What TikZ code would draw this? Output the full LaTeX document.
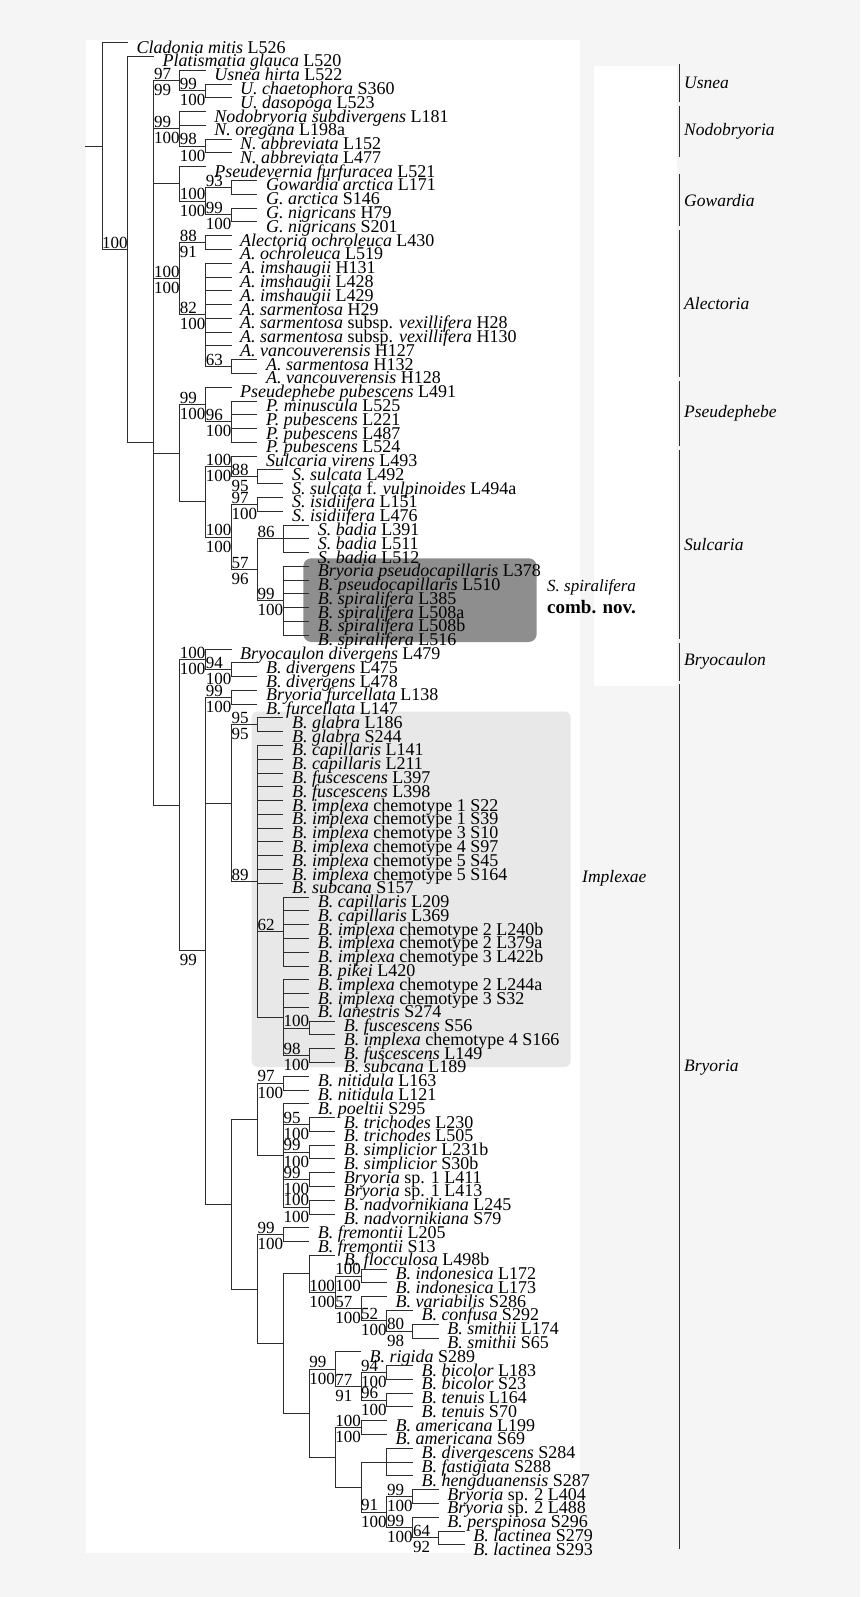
\documentclass[tikz,border=0pt]{standalone}
\usepackage{fontspec}
\setmainfont{Liberation Serif}
\usetikzlibrary{calc}
\definecolor{bgc}{RGB}{245,245,245}
\definecolor{boxdark}{RGB}{142,142,142}
\definecolor{boxlight}{RGB}{232,232,232}
\definecolor{ln}{RGB}{45,45,45}
\pgfmathdeclarefunction{colx}{1}{\pgfmathparse{102+25.9*#1}}
\pgfmathdeclarefunction{rowy}{1}{\pgfmathparse{42.7+(#1-1)*13.78}}
\tikzset{
  branch/.style={draw=ln, line width=0.9pt},
  bracket/.style={draw=ln, line width=0.8pt},
  leaf/.style={anchor=base west, inner sep=0pt, xshift=8.5pt, yshift=-10.5pt, font=\fontsize{18}{20}\selectfont},
  supu/.style={anchor=base west, inner sep=0pt, yshift=1.2pt, font=\fontsize{17}{19}\selectfont},
  supl/.style={anchor=base west, inner sep=0pt, yshift=-15pt, font=\fontsize{17}{19}\selectfont},
  cladelab/.style={anchor=west, inner sep=0pt, xshift=5pt, font=\fontsize{17.5}{19}\selectfont\itshape},
}
\newcommand\TNode[3]{\coordinate (#1) at ({colx(#2)},{rowy(#3)});}
\newcommand\TEdge[4]{\draw[branch] (#1) |- (#2);
  \node[supu] (#2-u) at (#1 |- #2) {#3};
  \node[supl] (#2-d) at (#1 |- #2) {#4};}
\newcommand\TLeaf[5]{\coordinate (#2) at ({colx(#3)},{rowy(#4)});
  \draw[branch] (#1) |- (#2);
  \node[leaf] (#2-t) at (#2) {#5};}
\newcommand\TClade[4]{\coordinate (#1-a) at (679,{rowy(#2)-6});
  \coordinate (#1-b) at (679,{rowy(#3)+4});
  \draw[bracket] (#1-a) -- (#1-b);
  \node[cladelab] (#1-l) at ($(#1-a)!0.5!(#1-b)$) {#4};}
\begin{document}
\begin{tikzpicture}[x=1pt,y=-1pt]
\useasboundingbox (0,0) rectangle (860,1597);
\fill[bgc] (0,0) rectangle (860,1597);
\fill[white] (86,40) rectangle (580,1553);
\fill[white] (594,66) rectangle (677,686);
\fill[boxlight, rounded corners=6pt] (251.7,711.5) rectangle (570.6,1067);
\fill[boxdark, rounded corners=8pt] (303.3,558.3) rectangle (536.7,642);
\node[anchor=west, inner sep=0pt, font=\fontsize{17}{19}\selectfont\itshape] (spname) at (547,587) {S. spiralifera};
\node[anchor=west, inner sep=0pt, font=\fontsize{19}{21}\selectfont\bfseries] (spnov) at (547,607.5) {comb. nov.};
\node[anchor=west, inner sep=0pt, font=\fontsize{17.5}{19}\selectfont\itshape] (implexae) at (582,878) {Implexae};
% clade brackets
\TClade{cU}{3}{5}{Usnea}
\TClade{cN}{6}{9}{Nodobryoria}
\TClade{cG}{11}{14}{Gowardia}
\TClade{cA}{15}{25}{Alectoria}
\TClade{cP}{26}{30}{Pseudephebe}
\TClade{cS}{31}{44}{Sulcaria}
\TClade{cC}{45}{47}{Bryocaulon}
\coordinate (cB-a) at (679,{rowy(48)-6});
\coordinate (cB-b) at (679,{rowy(110)+4});
\draw[bracket] (cB-a) -- (cB-b);
\node[cladelab] (cB-l) at (679,1068) {Bryoria};
% root
\TNode{R}{0}{8.50897}
\TNode{A}{1}{16.01794}
\TNode{B}{2}{30.03589}
\coordinate (stub) at (85,{rowy(8.50897)});
\draw[branch] (stub) -- (R);
\TLeaf{R}{l1}{1}{1}{\textit{Cladonia mitis} L526}
\TEdge{R}{A}{100}{}
\TLeaf{A}{l2}{2}{2}{\textit{Platismatia glauca} L520}
\TEdge{A}{B}{}{}
% Usnea
\TNode{U1}{3}{3.75} \TNode{U2}{4}{4.5}
\TEdge{B}{U1}{97}{99}
\TLeaf{U1}{l3}{4}{3}{\textit{Usnea hirta} L522}
\TEdge{U1}{U2}{99}{100}
\TLeaf{U2}{l4}{5}{4}{\textit{U. chaetophora} S360}
\TLeaf{U2}{l5}{5}{5}{\textit{U. dasopoga} L523}
% Nodobryoria
\TNode{N1}{3}{7.25} \TNode{N2}{4}{8.5}
\TEdge{B}{N1}{99}{100}
\TLeaf{N1}{l6}{4}{6}{\textit{Nodobryoria subdivergens} L181}
\TLeaf{N1}{l7}{4}{7}{\textit{N. oregana} L198a}
\TEdge{N1}{N2}{98}{100}
\TLeaf{N2}{l8}{5}{8}{\textit{N. abbreviata} L152}
\TLeaf{N2}{l9}{5}{9}{\textit{N. abbreviata} L477}
% Gowardia
\TNode{G0}{3}{11.25} \TNode{G1}{4}{12.5} \TNode{G2}{5}{11.5} \TNode{G3}{5}{13.5}
\TEdge{B}{G0}{}{}
\TLeaf{G0}{l10}{4}{10}{\textit{Pseudevernia furfuracea} L521}
\TEdge{G0}{G1}{100}{100}
\TEdge{G1}{G2}{93}{}
\TEdge{G1}{G3}{99}{100}
\TLeaf{G2}{l11}{6}{11}{\textit{Gowardia arctica} L171}
\TLeaf{G2}{l12}{6}{12}{\textit{G. arctica} S146}
\TLeaf{G3}{l13}{6}{13}{\textit{G. nigricans} H79}
\TLeaf{G3}{l14}{6}{14}{\textit{G. nigricans} S201}
% Alectoria
\TNode{AL}{3}{18.125} \TNode{AO}{4}{15.5} \TNode{AI}{4}{20.75} \TNode{AS}{5}{24.5}
\TEdge{B}{AL}{100}{100}
\TEdge{AL}{AO}{88}{91}
\TEdge{AL}{AI}{82}{100}
\TEdge{AI}{AS}{63}{}
\TLeaf{AO}{l15}{5}{15}{\textit{Alectoria ochroleuca} L430}
\TLeaf{AO}{l16}{5}{16}{\textit{A. ochroleuca} L519}
\TLeaf{AI}{l17}{5}{17}{\textit{A. imshaugii} H131}
\TLeaf{AI}{l18}{5}{18}{\textit{A. imshaugii} L428}
\TLeaf{AI}{l19}{5}{19}{\textit{A. imshaugii} L429}
\TLeaf{AI}{l20}{5}{20}{\textit{A. sarmentosa} H29}
\TLeaf{AI}{l21}{5}{21}{\textit{A. sarmentosa} subsp. \textit{vexillifera} H28}
\TLeaf{AI}{l22}{5}{22}{\textit{A. sarmentosa} subsp. \textit{vexillifera} H130}
\TLeaf{AI}{l23}{5}{23}{\textit{A. vancouverensis} H127}
\TLeaf{AS}{l24}{6}{24}{\textit{A. sarmentosa} H132}
\TLeaf{AS}{l25}{6}{25}{\textit{A. vancouverensis} H128}
% Pseudephebe
\TNode{PP}{3}{30.78125} \TNode{PS}{4}{27.25} \TNode{P2}{5}{28.5}
\TEdge{B}{PP}{}{}
\TEdge{PP}{PS}{99}{100}
\TLeaf{PS}{l26}{5}{26}{\textit{Pseudephebe pubescens} L491}
\TEdge{PS}{P2}{96}{100}
\TLeaf{P2}{l27}{6}{27}{\textit{P. minuscula} L525}
\TLeaf{P2}{l28}{6}{28}{\textit{P. pubescens} L221}
\TLeaf{P2}{l29}{6}{29}{\textit{P. pubescens} L487}
\TLeaf{P2}{l30}{6}{30}{\textit{P. pubescens} L524}
% Sulcaria
\TNode{SU}{4}{34.3125} \TNode{SV}{5}{31.75} \TNode{SS}{6}{32.5} \TNode{SB}{5}{36.875}
\TNode{SI}{6}{34.5} \TNode{S57}{6}{39.25} \TNode{B86}{7}{37} \TNode{SP}{7}{41.5}
\TEdge{PP}{SU}{}{}
\TEdge{SU}{SV}{100}{100}
\TLeaf{SV}{l31}{6}{31}{\textit{Sulcaria virens} L493}
\TEdge{SV}{SS}{88}{95}
\TLeaf{SS}{l32}{7}{32}{\textit{S. sulcata} L492}
\TLeaf{SS}{l33}{7}{33}{\textit{S. sulcata} f. \textit{vulpinoides} L494a}
\TEdge{SU}{SB}{100}{100}
\TEdge{SB}{SI}{97}{100}
\TLeaf{SI}{l34}{7}{34}{\textit{S. isidiifera} L151}
\TLeaf{SI}{l35}{7}{35}{\textit{S. isidiifera} L476}
\TEdge{SB}{S57}{57}{96}
\TEdge{S57}{B86}{86}{}
\TLeaf{B86}{l36}{8}{36}{\textit{S. badia} L391}
\TLeaf{B86}{l37}{8}{37}{\textit{S. badia} L511}
\TLeaf{B86}{l38}{8}{38}{\textit{S. badia} L512}
\TEdge{S57}{SP}{99}{100}
\TLeaf{SP}{l39}{8}{39}{\textit{Bryoria pseudocapillaris} L378}
\TLeaf{SP}{l40}{8}{40}{\textit{B. pseudocapillaris} L510}
\TLeaf{SP}{l41}{8}{41}{\textit{B. spiralifera} L385}
\TLeaf{SP}{l42}{8}{42}{\textit{B. spiralifera} L508a}
\TLeaf{SP}{l43}{8}{43}{\textit{B. spiralifera} L508b}
\TLeaf{SP}{l44}{8}{44}{\textit{B. spiralifera} L516}
% Bryocaulon + Bryoria
\TNode{BB}{3}{56.32178} \TNode{BC}{4}{45.75} \TNode{BC2}{5}{46.5} \TNode{BR}{4}{66.89355} \TNode{BF}{5}{48.5}
\TEdge{B}{BB}{}{}
\TEdge{BB}{BC}{100}{100}
\TLeaf{BC}{l45}{5}{45}{\textit{Bryocaulon divergens} L479}
\TEdge{BC}{BC2}{94}{100}
\TLeaf{BC2}{l46}{6}{46}{\textit{B. divergens} L475}
\TLeaf{BC2}{l47}{6}{47}{\textit{B. divergens} L478}
\TEdge{BB}{BR}{}{99}
\TEdge{BR}{BF}{99}{100}
\TLeaf{BF}{l48}{6}{48}{\textit{Bryoria furcellata} L138}
\TLeaf{BF}{l49}{6}{49}{\textit{B. furcellata} L147}
% Implexae
\TNode{IM}{5}{56.1875} \TNode{GL}{6}{50.5} \TNode{N89}{6}{61.875} \TNode{N62}{7}{65.5}
\TNode{NL}{7}{71.75} \TNode{N100}{8}{72.5} \TNode{N98}{8}{74.5}
\TEdge{BR}{IM}{}{}
\TEdge{IM}{GL}{95}{95}
\TLeaf{GL}{l50}{7}{50}{\textit{B. glabra} L186}
\TLeaf{GL}{l51}{7}{51}{\textit{B. glabra} S244}
\TEdge{IM}{N89}{89}{}
\TLeaf{N89}{l52}{7}{52}{\textit{B. capillaris} L141}
\TLeaf{N89}{l53}{7}{53}{\textit{B. capillaris} L211}
\TLeaf{N89}{l54}{7}{54}{\textit{B. fuscescens} L397}
\TLeaf{N89}{l55}{7}{55}{\textit{B. fuscescens} L398}
\TLeaf{N89}{l56}{7}{56}{\textit{B. implexa} chemotype 1 S22}
\TLeaf{N89}{l57}{7}{57}{\textit{B. implexa} chemotype 1 S39}
\TLeaf{N89}{l58}{7}{58}{\textit{B. implexa} chemotype 3 S10}
\TLeaf{N89}{l59}{7}{59}{\textit{B. implexa} chemotype 4 S97}
\TLeaf{N89}{l60}{7}{60}{\textit{B. implexa} chemotype 5 S45}
\TLeaf{N89}{l61}{7}{61}{\textit{B. implexa} chemotype 5 S164}
\TLeaf{N89}{l62}{7}{62}{\textit{B. subcana} S157}
\TEdge{N89}{N62}{62}{}
\TLeaf{N62}{l63}{8}{63}{\textit{B. capillaris} L209}
\TLeaf{N62}{l64}{8}{64}{\textit{B. capillaris} L369}
\TLeaf{N62}{l65}{8}{65}{\textit{B. implexa} chemotype 2 L240b}
\TLeaf{N62}{l66}{8}{66}{\textit{B. implexa} chemotype 2 L379a}
\TLeaf{N62}{l67}{8}{67}{\textit{B. implexa} chemotype 3 L422b}
\TLeaf{N62}{l68}{8}{68}{\textit{B. pikei} L420}
\TEdge{N89}{NL}{}{}
\TLeaf{NL}{l69}{8}{69}{\textit{B. implexa} chemotype 2 L244a}
\TLeaf{NL}{l70}{8}{70}{\textit{B. implexa} chemotype 3 S32}
\TLeaf{NL}{l71}{8}{71}{\textit{B. lanestris} S274}
\TEdge{NL}{N100}{100}{}
\TLeaf{N100}{l72}{9}{72}{\textit{B. fuscescens} S56}
\TLeaf{N100}{l73}{9}{73}{\textit{B. implexa} chemotype 4 S166}
\TEdge{NL}{N98}{98}{100}
\TLeaf{N98}{l74}{9}{74}{\textit{B. fuscescens} L149}
\TLeaf{N98}{l75}{9}{75}{\textit{B. subcana} L189}
% remaining Bryoria
\TNode{BX}{5}{85.28711} \TNode{BN}{6}{79.125} \TNode{NI}{7}{76.5} \TNode{NP}{7}{81.75}
\TNode{NT}{8}{79.5} \TNode{NS}{8}{81.5} \TNode{NO}{8}{83.5} \TNode{NN}{8}{85.5}
\TEdge{BR}{BX}{}{}
\TEdge{BX}{BN}{}{}
\TEdge{BN}{NI}{97}{100}
\TLeaf{NI}{l76}{8}{76}{\textit{B. nitidula} L163}
\TLeaf{NI}{l77}{8}{77}{\textit{B. nitidula} L121}
\TEdge{BN}{NP}{}{}
\TLeaf{NP}{l78}{8}{78}{\textit{B. poeltii} S295}
\TEdge{NP}{NT}{95}{100}
\TLeaf{NT}{l79}{9}{79}{\textit{B. trichodes} L230}
\TLeaf{NT}{l80}{9}{80}{\textit{B. trichodes} L505}
\TEdge{NP}{NS}{99}{100}
\TLeaf{NS}{l81}{9}{81}{\textit{B. simplicior} L231b}
\TLeaf{NS}{l82}{9}{82}{\textit{B. simplicior} S30b}
\TEdge{NP}{NO}{99}{100}
\TLeaf{NO}{l83}{9}{83}{\textit{Bryoria} sp. 1 L411}
\TLeaf{NO}{l84}{9}{84}{\textit{Bryoria} sp. 1 L413}
\TEdge{NP}{NN}{100}{100}
\TLeaf{NN}{l85}{9}{85}{\textit{B. nadvornikiana} L245}
\TLeaf{NN}{l86}{9}{86}{\textit{B. nadvornikiana} S79}
\TNode{BF2}{6}{91.44922} \TNode{FR}{7}{87.5} \TNode{Q}{7}{95.39844} \TNode{FL}{8}{90.34375}
\TNode{IN}{9}{91.6875} \TNode{ID}{10}{90.5} \TNode{V57}{10}{92.875} \TNode{C52}{11}{93.75} \TNode{C80}{12}{94.5}
\TEdge{BX}{BF2}{}{}
\TEdge{BF2}{FR}{99}{100}
\TLeaf{FR}{l87}{8}{87}{\textit{B. fremontii} L205}
\TLeaf{FR}{l88}{8}{88}{\textit{B. fremontii} S13}
\TEdge{BF2}{Q}{}{}
\TEdge{Q}{FL}{}{}
\TLeaf{FL}{l89}{9}{89}{\textit{B. flocculosa} L498b}
\TEdge{FL}{IN}{100}{100}
\TEdge{IN}{ID}{100}{100}
\TLeaf{ID}{l90}{11}{90}{\textit{B. indonesica} L172}
\TLeaf{ID}{l91}{11}{91}{\textit{B. indonesica} L173}
\TEdge{IN}{V57}{57}{100}
\TLeaf{V57}{l92}{11}{92}{\textit{B. variabilis} S286}
\TEdge{V57}{C52}{52}{100}
\TLeaf{C52}{l93}{12}{93}{\textit{B. confusa} S292}
\TEdge{C52}{C80}{80}{98}
\TLeaf{C80}{l94}{13}{94}{\textit{B. smithii} L174}
\TLeaf{C80}{l95}{13}{95}{\textit{B. smithii} S65}
\TNode{RI}{8}{100.45313} \TNode{R99}{9}{97.25} \TNode{N77}{10}{98.5} \TNode{B94}{11}{97.5} \TNode{T96}{11}{99.5}
\TNode{RA}{9}{103.65625} \TNode{AM}{10}{101.5} \TNode{RB}{10}{105.8125} \TNode{DV}{11}{104}
\TNode{N91}{11}{107.625} \TNode{S99}{12}{106.5} \TNode{P99}{12}{108.75} \TNode{L64}{13}{109.5}
\TEdge{Q}{RI}{}{}
\TEdge{RI}{R99}{99}{100}
\TLeaf{R99}{l96}{10}{96}{\textit{B. rigida} S289}
\TEdge{R99}{N77}{77}{91}
\TEdge{N77}{B94}{94}{100}
\TLeaf{B94}{l97}{12}{97}{\textit{B. bicolor} L183}
\TLeaf{B94}{l98}{12}{98}{\textit{B. bicolor} S23}
\TEdge{N77}{T96}{96}{100}
\TLeaf{T96}{l99}{12}{99}{\textit{B. tenuis} L164}
\TLeaf{T96}{l100}{12}{100}{\textit{B. tenuis} S70}
\TEdge{RI}{RA}{}{}
\TEdge{RA}{AM}{100}{100}
\TLeaf{AM}{l101}{11}{101}{\textit{B. americana} L199}
\TLeaf{AM}{l102}{11}{102}{\textit{B. americana} S69}
\TEdge{RA}{RB}{}{}
\TEdge{RB}{DV}{}{}
\TLeaf{DV}{l103}{12}{103}{\textit{B. divergescens} S284}
\TLeaf{DV}{l104}{12}{104}{\textit{B. fastigiata} S288}
\TLeaf{DV}{l105}{12}{105}{\textit{B. hengduanensis} S287}
\TEdge{RB}{N91}{91}{100}
\TEdge{N91}{S99}{99}{100}
\TLeaf{S99}{l106}{13}{106}{\textit{Bryoria} sp. 2 L404}
\TLeaf{S99}{l107}{13}{107}{\textit{Bryoria} sp. 2 L488}
\TEdge{N91}{P99}{99}{100}
\TLeaf{P99}{l108}{13}{108}{\textit{B. perspinosa} S296}
\TEdge{P99}{L64}{64}{92}
\TLeaf{L64}{l109}{14}{109}{\textit{B. lactinea} S279}
\TLeaf{L64}{l110}{14}{110}{\textit{B. lactinea} S293}
\end{tikzpicture}
\end{document}
